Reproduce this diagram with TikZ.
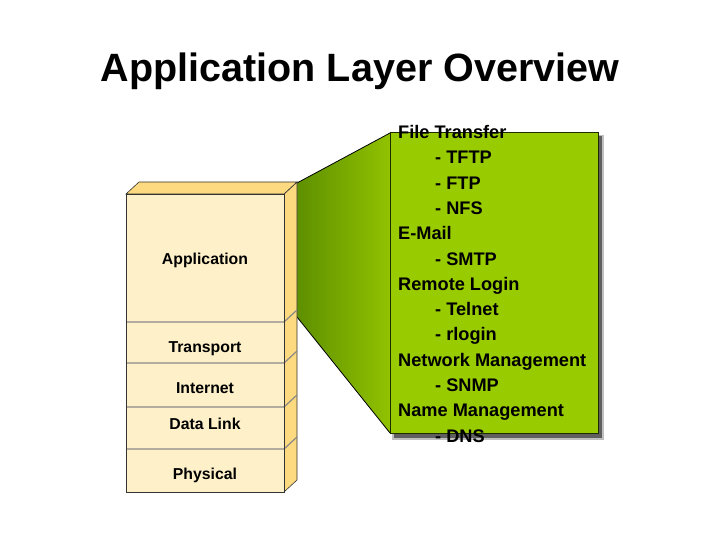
\documentclass[tikz,border=0pt]{standalone}
\usepackage{fontspec}
\setmainfont{Liberation Sans}
\usetikzlibrary{shadows,calc}
\definecolor{cream}{HTML}{FEF1C9}
\definecolor{gold}{HTML}{FDD97F}
\definecolor{lime}{HTML}{99CC00}
\definecolor{darklime}{HTML}{5E9000}
\definecolor{sepgray}{HTML}{8A8A88}
\definecolor{boxedge}{HTML}{1E2A00}
\tikzset{
  layerlabel/.style={font=\fontsize{15.8}{18}\selectfont\bfseries, anchor=base},
  boxtext/.style={font=\fontsize{18.2}{20}\selectfont\bfseries, anchor=base west, inner sep=0pt},
  sepline/.style={draw=sepgray, line width=1.2pt},
  edge/.style={draw=black!80, line width=0.6pt}
}
\begin{document}
\begin{tikzpicture}[x=1pt,y=-1pt]
\useasboundingbox (0,0) rectangle (720,540);
% title
\node[font=\fontsize{39.5}{44}\selectfont\bfseries, anchor=base] (title) at (360,82) {Application Layer Overview};
% funnel
\coordinate (ft) at (297,183);
\coordinate (fb) at (297,317);
\coordinate (bt) at (390,133);
\coordinate (bb) at (390,433);
\shade[left color=darklime, right color=lime!95!black] (ft) -- (bt) -- (bb) -- (fb) -- cycle;
\draw[black, line width=0.8pt] (ft) -- (bt);
\draw[black, line width=0.8pt] (fb) -- (bb);
% green box with shadow
\fill[black, opacity=0.25] (392,135) rectangle (604,440);
\fill[black, opacity=0.5] (394,136) rectangle (602,438);
\node[draw=boxedge, fill=lime, line width=0.9pt, minimum width=208pt, minimum height=301pt, inner sep=0pt, anchor=north west] (box) at (390,132) {};
% stack side face and top face
\filldraw[fill=gold, edge] (284,194) -- (297,182) -- (297,480) -- (284,492) -- cycle;
\filldraw[fill=gold, edge] (126,194) -- (139,182) -- (297,182) -- (284,194) -- cycle;
% front
\node[draw=black!80, fill=cream, line width=0.6pt, minimum width=158pt, minimum height=298pt, inner sep=0pt, anchor=north west] (stack) at (126,194) {};
% separators
\foreach \y in {322,363,407,449}{
  \draw[sepline] (126,\y) -- (284,\y) -- (297,\y-12);
}
\draw[edge] (126,194) rectangle (284,492);
% labels
\node[layerlabel] (app) at (205,264) {Application};
\node[layerlabel] (tra) at (205,352) {Transport};
\node[layerlabel] (int) at (205,393) {Internet};
\node[layerlabel] (dl) at (205,429) {Data Link};
\node[layerlabel] (phy) at (205,479) {Physical};
% box text
\foreach \t/\lx [count=\i from 0] in {File Transfer/398, - TFTP/435, - FTP/435, - NFS/435, E-Mail/398, - SMTP/435, Remote Login/398, - Telnet/435, - rlogin/435, Network Management/398, - SNMP/435, Name Management/398, - DNS/435}{
  \node[boxtext] (t\i) at (\lx,{138.5+25.3*\i}) {\t};
}
\end{tikzpicture}
\end{document}
